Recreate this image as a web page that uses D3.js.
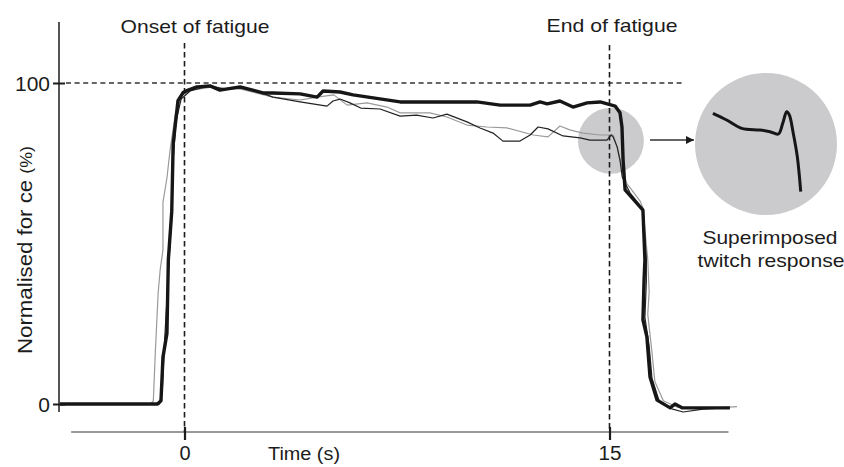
<!DOCTYPE html>
<html>
<head>
<meta charset="utf-8">
<script src="https://cdn.jsdelivr.net/npm/d3@7/dist/d3.min.js"></script>
<style>
  html, body { margin: 0; padding: 0; background: #fff; }
  svg { display: block; font-family: "Liberation Sans", Arial, sans-serif; }
</style>
</head>
<body>
<svg id="chart" width="844" height="467"></svg>
<script>
// Force traces during a sustained contraction (time in s, force in % of max)
const thickT = [-4.4, -0.95, -0.83, -0.76, -0.62, -0.57, -0.45, -0.40, -0.23, -0.05, 0.13, 0.44, 0.90, 1.25, 1.96, 2.77, 3.12, 4.08, 4.68, 4.89, 5.49, 5.95, 7.61, 9.02, 10.32, 11.14, 12.20, 12.55, 12.80, 13.25, 13.71, 14.21, 14.67, 15.20, 15.37, 15.44, 15.48, 15.55, 15.80, 16.18, 16.25, 16.22, 16.18, 16.32, 16.43, 16.68, 17.14, 17.31, 17.56, 19.25];
const thickV = [0, 0, 1, 14.6, 22, 45, 60, 81, 94.5, 97, 97.8, 98.8, 99.1, 97.8, 98.8, 96.9, 96.9, 96.6, 95.6, 97.5, 97.2, 96.3, 94.1, 94.1, 94.1, 93.1, 93.1, 94.1, 93.5, 94.4, 92.5, 93.8, 94.1, 92.8, 90.7, 86.3, 76.0, 66.7, 64.2, 60.4, 44.9, 38.6, 26.2, 20.9, 8.4, 1.2, -1.2, 0, -1.2, -1.2];

const darkT = [-4.4, -0.88, -0.78, -0.70, -0.48, -0.41, -0.30, -0.12, 0.2, 0.6, 1.0, 1.4, 2.0, 2.7, 3.12, 4.08, 5.03, 5.24, 5.49, 5.84, 6.22, 6.90, 7.61, 8.19, 8.77, 9.26, 9.97, 10.43, 10.89, 11.24, 11.84, 12.20, 12.48, 12.83, 13.36, 13.96, 14.31, 14.91, 15.06, 15.13, 15.27, 15.37, 15.45, 15.55, 15.73, 16.01, 16.18, 16.3, 16.3, 16.25, 16.4, 16.5, 16.75, 17.2, 17.6, 18.3, 19.1];
const darkV = [0, 0, 5, 20, 55, 75, 88, 95, 97.5, 98.5, 99, 98, 98.5, 97, 95.6, 94.1, 92.8, 94.4, 95.0, 93.8, 92.2, 91.9, 89.7, 90.0, 89.1, 90.3, 87.9, 86.0, 84.4, 81.9, 81.9, 83.8, 86.3, 85.7, 83.5, 82.9, 82.2, 82.2, 83.8, 83.2, 80.1, 76.0, 70.7, 68.8, 65.7, 62.6, 60.4, 45, 38, 27, 18, 8, 1, -1.5, -2.5, -1.6, -1.2];

const greyT = [-4.4, -1.2, -1.1, -1.03, -0.93, -0.86, -0.76, -0.76, -0.62, -0.51, -0.33, -0.09, 0.2, 0.6, 1.0, 1.4, 2.0, 2.7, 3.12, 4.08, 4.68, 5.27, 5.74, 6.44, 7.15, 7.61, 8.66, 9.26, 9.97, 10.67, 11.38, 12.31, 12.83, 13.25, 13.60, 14.06, 14.67, 15.13, 15.27, 15.48, 15.62, 15.73, 16.08, 16.18, 16.35, 16.4, 16.35, 16.5, 16.6, 16.9, 17.4, 18.2, 19.5];
const greyV = [0, 0, 1, 16, 34.6, 41.7, 48, 62.9, 70.4, 79, 90, 96, 97.8, 98.2, 98.8, 98.4, 98.1, 96.5, 95.6, 94.7, 95.6, 96.3, 93.1, 93.8, 92.5, 90.7, 90.7, 89.4, 86.9, 86.3, 86.0, 83.8, 83.2, 86.6, 85.4, 84.4, 83.8, 83.8, 80.1, 71.7, 68.5, 67.3, 63.2, 61.1, 45, 35, 28, 16, 7, 1, -1, -1.5, -0.8];

// Enlarged superimposed twitch (relative units)
const twitchT = [1, 16.3, 33, 53.3, 64.4, 73.7, 78.6, 83, 85.9, 90.3, 94.8, 98.6];
const twitchV = [98.4, 90, 79.6, 77.5, 75.4, 72.5, 85.9, 100.4, 96.3, 73.4, 44.1, 0.4];

const xTicks = [0, 15];
const xTickLabels = ["0", "15"];
const yTicks = [0, 100];
const yTickLabels = ["0", "100"];
const markers = [
  { t: 0, label: "Onset of fatigue" },
  { t: 15, label: "End of fatigue" }
];
const twitchSpot = { t: 15.05, v: 82 };

const svg = d3.select("#chart");

const x = d3.scaleLinear().domain([0, 15]).range([184.5, 609.5]);
const y = d3.scaleLinear().domain([0, 100]).range([404, 83]);
const xAxisExtent = [-4.0, 19.2];
const yAxisExtent = [-2.5, 119];
const xAxisY = 432;

const ink = "#1c1c1c";
const circleFill = "#cbcbcd";

// highlighted region around the end of the contraction
svg.append("circle")
  .attr("cx", x(twitchSpot.t)).attr("cy", y(twitchSpot.v)).attr("r", 33)
  .attr("fill", circleFill);

// reference dashes: 100 % level and event markers
svg.append("line")
  .attr("x1", 66).attr("x2", 685)
  .attr("y1", y(100)).attr("y2", y(100))
  .attr("stroke", "#333").attr("stroke-width", 1.4)
  .attr("stroke-dasharray", "5,3.6");

markers.forEach((m, i) => {
  svg.append("line")
    .attr("x1", x(m.t)).attr("x2", x(m.t))
    .attr("y1", i === 0 ? 43 : 45).attr("y2", xAxisY)
    .attr("stroke", ink).attr("stroke-width", 1.6)
    .attr("stroke-dasharray", "5.5,3.5");
});

// y axis
svg.append("line")
  .attr("x1", 59).attr("x2", 59)
  .attr("y1", y(yAxisExtent[0])).attr("y2", y(yAxisExtent[1]))
  .attr("stroke", ink).attr("stroke-width", 1.5);

const yAxis = d3.axisLeft(y).tickValues(yTicks).tickSize(7)
  .tickFormat((d, i) => yTickLabels[i]);
const yg = svg.append("g").attr("transform", "translate(59,0)").call(yAxis);
yg.select(".domain").remove();
yg.selectAll(".tick line").attr("x1", -6).attr("x2", 6).attr("stroke", ink).attr("stroke-width", 2);
yg.selectAll(".tick text")
  .attr("x", -9).attr("dy", "0.36em")
  .attr("font-size", 21).attr("fill", ink)
  .attr("font-family", "Liberation Sans, Arial, sans-serif")
  .each(function (d) {
    if (d === 100) d3.select(this).attr("textLength", 35).attr("lengthAdjust", "spacingAndGlyphs");
  });

// x axis
svg.append("line")
  .attr("x1", x(xAxisExtent[0])).attr("x2", x(xAxisExtent[1]))
  .attr("y1", xAxisY).attr("y2", xAxisY)
  .attr("stroke", "#777").attr("stroke-width", 1.5);

const xAxis = d3.axisBottom(x).tickValues(xTicks).tickSize(0)
  .tickFormat((d, i) => xTickLabels[i]);
const xg = svg.append("g").attr("transform", `translate(0,${xAxisY})`).call(xAxis);
xg.select(".domain").remove();
xg.selectAll(".tick line").attr("y1", -5).attr("y2", 8).attr("stroke", ink).attr("stroke-width", 2.2);
xg.selectAll(".tick text")
  .attr("y", 28).attr("dy", 0)
  .attr("font-size", 20).attr("fill", ink)
  .attr("font-family", "Liberation Sans, Arial, sans-serif")
  .each(function (d) {
    if (d === 15) d3.select(this).attr("textLength", 23).attr("lengthAdjust", "spacingAndGlyphs");
  });

// axis titles
svg.append("text")
  .attr("x", 304).attr("y", 460)
  .attr("text-anchor", "middle")
  .attr("font-size", 18).attr("fill", ink)
  .attr("textLength", 72).attr("lengthAdjust", "spacingAndGlyphs")
  .text("Time (s)");

const yTitle = svg.append("text")
  .attr("transform", "translate(32,250) rotate(-90)")
  .attr("text-anchor", "middle")
  .attr("font-size", 20).attr("fill", ink)
  .attr("textLength", 208).attr("lengthAdjust", "spacingAndGlyphs");
yTitle.append("tspan").text("Normalised for ce ");
yTitle.append("tspan").attr("font-size", 16).text("(%)");

// marker captions
svg.append("text")
  .attr("x", 195).attr("y", 33).attr("text-anchor", "middle")
  .attr("font-size", 19).attr("fill", ink)
  .attr("textLength", 149).attr("lengthAdjust", "spacingAndGlyphs")
  .text(markers[0].label);
svg.append("text")
  .attr("x", 612).attr("y", 32).attr("text-anchor", "middle")
  .attr("font-size", 19).attr("fill", ink)
  .attr("textLength", 131).attr("lengthAdjust", "spacingAndGlyphs")
  .text(markers[1].label);

// traces
const line = d3.line()
  .x(d => x(d[0])).y(d => y(d[1]))
  .curve(d3.curveLinear);

const zip = (ts, vs) => ts.map((t, i) => [t, vs[i]]);

svg.append("path").datum(zip(greyT, greyV))
  .attr("d", line).attr("fill", "none")
  .attr("stroke", "#9a9a9a").attr("stroke-width", 1.2).attr("stroke-linejoin", "round");
svg.append("path").datum(zip(darkT, darkV))
  .attr("d", line).attr("fill", "none")
  .attr("stroke", "#222").attr("stroke-width", 1.2).attr("stroke-linejoin", "round");
svg.append("path").datum(zip(thickT, thickV))
  .attr("d", line).attr("fill", "none")
  .attr("stroke", "#161616").attr("stroke-width", 3.4).attr("stroke-linejoin", "round");

// arrow to the enlarged view
svg.append("defs").append("marker")
  .attr("id", "head").attr("viewBox", "0 0 10 10")
  .attr("refX", 10).attr("refY", 5)
  .attr("markerWidth", 8).attr("markerHeight", 8)
  .attr("markerUnits", "userSpaceOnUse")
  .attr("orient", "auto")
  .append("path").attr("d", "M0,0 L10,5 L0,10 Z").attr("fill", ink);

svg.append("line")
  .attr("x1", 650).attr("x2", 694)
  .attr("y1", 140).attr("y2", 140)
  .attr("stroke", "#333").attr("stroke-width", 1.3)
  .attr("marker-end", "url(#head)");

// enlarged twitch
svg.append("circle")
  .attr("cx", 766).attr("cy", 144).attr("r", 71)
  .attr("fill", circleFill);

const ix = d3.scaleLinear().domain([0, 100]).range([712, 802]);
const iy = d3.scaleLinear().domain([0, 100]).range([192, 112]);
const insetLine = d3.line().x(d => ix(d[0])).y(d => iy(d[1]))
  .curve(d3.curveCatmullRom.alpha(0.5));
svg.append("path").datum(zip(twitchT, twitchV))
  .attr("d", insetLine).attr("fill", "none")
  .attr("stroke", "#161616").attr("stroke-width", 3).attr("stroke-linejoin", "round");

svg.append("text")
  .attr("x", 770).attr("y", 244).attr("text-anchor", "middle")
  .attr("font-size", 19).attr("fill", ink)
  .attr("textLength", 135).attr("lengthAdjust", "spacingAndGlyphs")
  .text("Superimposed");
svg.append("text")
  .attr("x", 771).attr("y", 267).attr("text-anchor", "middle")
  .attr("font-size", 19).attr("fill", ink)
  .attr("textLength", 147).attr("lengthAdjust", "spacingAndGlyphs")
  .text("twitch response");
</script>
</body>
</html>
